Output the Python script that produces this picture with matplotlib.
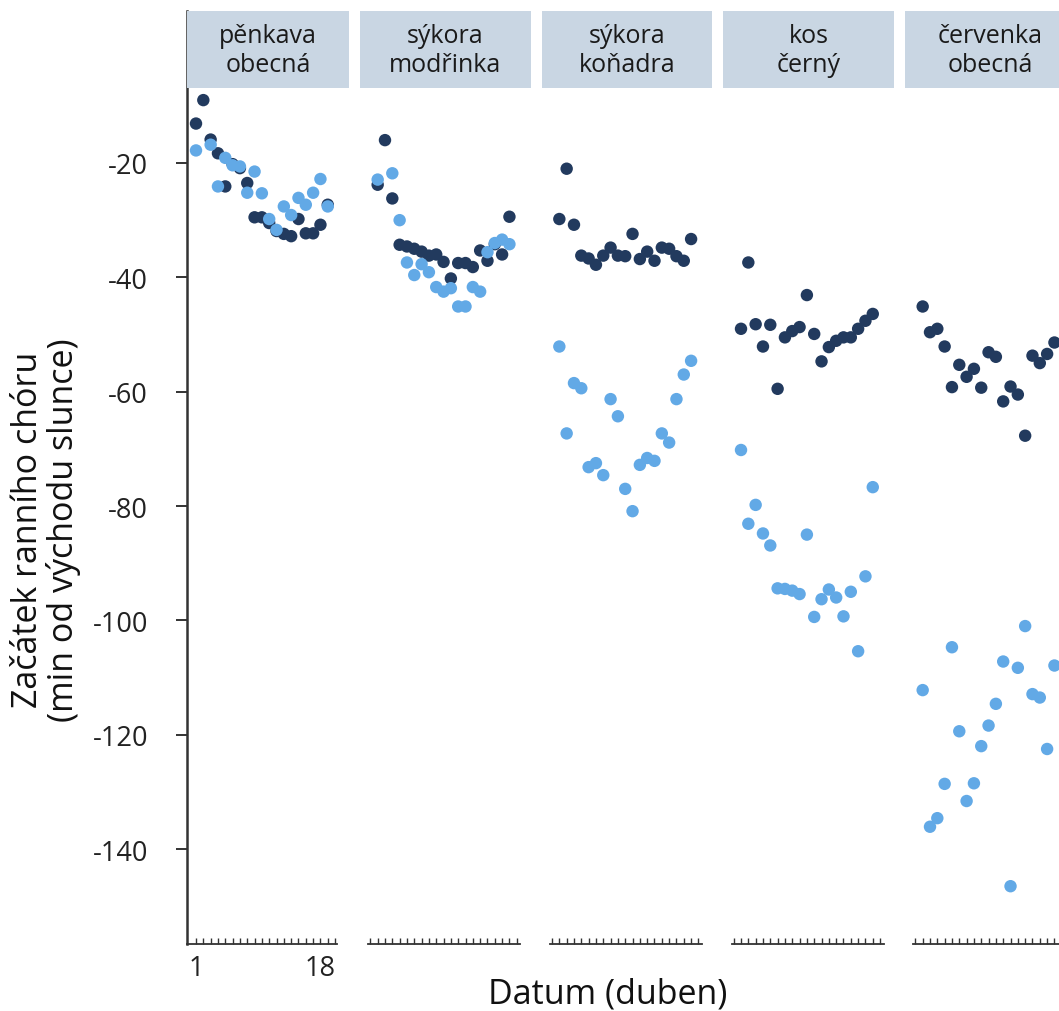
import matplotlib
matplotlib.use("Agg")
import matplotlib.pyplot as plt
from matplotlib.patches import Rectangle

# Dny v dubnu, stejné pro všechny druhy
days = list(range(1, 20))

species = [
    "pěnkava\nobecná",
    "sýkora\nmodřinka",
    "sýkora\nkoňadra",
    "kos\nčerný",
    "červenka\nobecná",
]

nan = float("nan")

# Tmavá řada
penkava_dark = [-13.1, -9.0, -15.9, -18.3, -24.1, -20.2, -20.9, -23.5, -29.5, -29.5,
                -30.5, -31.9, -32.4, -32.8, -29.8, -32.3, -32.3, -30.8, -27.3]
modrinka_dark = [-23.8, -16.0, -26.2, -34.3, -34.6, -35.0, -35.5, -36.2, -36.0, -37.3,
                 -40.2, -37.5, -37.5, -38.2, -35.3, -37.1, -34.2, -36.0, -29.4]
konadra_dark = [-29.8, -21.0, -30.8, -36.2, -36.7, -37.8, -36.2, -34.8, -36.2, -36.3,
                -32.4, -36.8, -35.5, -37.1, -34.8, -35.0, -36.3, -37.1, -33.3]
kos_dark = [-49.0, -37.4, -48.2, -52.1, -48.3, -59.5, -50.5, -49.4, -48.7, -43.1,
            -49.9, -54.7, -52.2, -51.1, -50.5, -50.5, -49.0, -47.6, -46.4]
cervenka_dark = [-45.1, -49.6, -49.0, -52.1, -59.2, -55.3, -57.4, -56.0, -59.3, -53.1,
                 -53.9, -61.7, -59.1, -60.5, -67.7, -53.7, -55.0, -53.4, -51.4]

# Světlá řada
penkava_light = [-17.8, nan, -16.8, -24.1, -19.1, -20.4, -20.6, -25.2, -21.5, -25.3,
                 -29.8, -31.7, -27.6, -29.1, -26.1, -27.3, -25.2, -22.8, -27.6]
modrinka_light = [-22.9, nan, -21.8, -30.0, -37.4, -39.6, -37.7, -39.1, -41.7, -42.5,
                  -41.9, -45.1, -45.1, -41.7, -42.5, -35.6, -34.0, -33.4, -34.2]
konadra_light = [-52.1, -67.3, -58.5, -59.4, -73.2, -72.5, -74.6, -61.3, -64.3, -77.0,
                 -80.9, -72.8, -71.6, -72.1, -67.3, -68.9, -61.3, -57.0, -54.6]
kos_light = [-70.2, -83.1, -79.8, -84.8, -86.9, -94.4, -94.5, -94.8, -95.4, -85.0,
             -99.4, -96.3, -94.6, -96.0, -99.3, -95.0, -105.4, -92.3, -76.7]
cervenka_light = [-112.2, -136.1, -134.6, -128.6, -104.7, -119.4, -131.6, -128.5, -122.0, -118.4,
                  -114.6, -107.2, -146.5, -108.3, -101.0, -112.9, -113.5, -122.5, -107.9]

dark_series = [penkava_dark, modrinka_dark, konadra_dark, kos_dark, cervenka_dark]
light_series = [penkava_light, modrinka_light, konadra_light, kos_light, cervenka_light]

y_ticks = [-140, -120, -100, -80, -60, -40, -20]
x_tick_labels = {1: "1", 18: "18"}

DARK = "#223a5e"
LIGHT = "#62a9e6"
STRIP = "#c9d6e3"
AXIS = "#333333"
FONT = "Open Sans"

plt.rcParams["axes.unicode_minus"] = False

W, H = 1059, 1012
fig = plt.figure(figsize=(W / 100, H / 100), dpi=100)


def fx(px):
    return px / W


def fy(py):
    return 1 - py / H


px_per_day = 7.32
period = 181.67
top, bottom, strip_bottom = 12, 945, 89
ylim = (-20 - (bottom - 164) / 5.717, -20 + (164 - top) / 5.717)

for k, name in enumerate(species):
    day1 = 196 + period * k
    strip_left = 178.3 + period * k
    left = 187 if k == 0 else strip_left
    right = 349 + period * k

    ax = fig.add_axes([fx(left), fy(bottom), (right - left) / W, (bottom - top) / H])
    ax.set_facecolor("none")
    ax.set_xlim(1 - (day1 - left) / px_per_day, 1 + (right - day1) / px_per_day)
    ax.set_ylim(*ylim)

    ax.scatter(days, dark_series[k], s=80, color=DARK, edgecolors="none", zorder=3)
    ax.scatter(days, light_series[k], s=80, color=LIGHT, edgecolors="none", zorder=4)

    for side in ("top", "right"):
        ax.spines[side].set_visible(False)
    ax.spines["bottom"].set_color(AXIS)
    ax.spines["bottom"].set_linewidth(1.3)

    if k == 0:
        ticks = list(range(1, 21))
        ax.spines["bottom"].set_bounds(ax.get_xlim()[0], 20.2)
        ax.spines["left"].set_color(AXIS)
        ax.spines["left"].set_linewidth(1.8)
        ax.set_yticks(y_ticks)
        ax.set_yticklabels([str(t) for t in y_ticks], fontfamily=FONT)
        ax.tick_params(axis="y", direction="out", length=8, width=1.4, color=AXIS,
                       pad=20, labelsize=19.5, labelcolor="#222222")
    else:
        ticks = list(range(0, 21))
        ax.spines["bottom"].set_bounds(-0.27, 20.5)
        ax.spines["left"].set_visible(False)
        ax.set_yticks([])

    ax.set_xticks(ticks)
    ax.set_xticklabels([x_tick_labels.get(t, "") if k == 0 else "" for t in ticks],
                       fontfamily=FONT)
    ax.tick_params(axis="x", direction="in", length=4, width=1.0, color=AXIS,
                   pad=7, labelsize=19.5, labelcolor="#222222")

    # záhlaví panelu
    s_left = max(strip_left, 187)
    fig.patches.append(Rectangle((fx(s_left), fy(strip_bottom)), (right - s_left) / W,
                                 (strip_bottom - top) / H, transform=fig.transFigure,
                                 facecolor=STRIP, edgecolor="none", zorder=1))
    fig.text(fx((s_left + right) / 2), fy(51), name, ha="center", va="center",
             fontsize=18, fontfamily=FONT, color="#1a1a1a", linespacing=1.2)

fig.text(fx(608), fy(995), "Datum (duben)", ha="center", va="center",
         fontsize=24.5, fontfamily=FONT, color="#111111")
fig.text(fx(46), fy(530), "Začátek ranního chóru\n(min od východu slunce)",
         ha="center", va="center", rotation=90, fontsize=24.5, fontfamily=FONT,
         color="#111111", linespacing=1.05)

fig.savefig("out.png", dpi=100)
